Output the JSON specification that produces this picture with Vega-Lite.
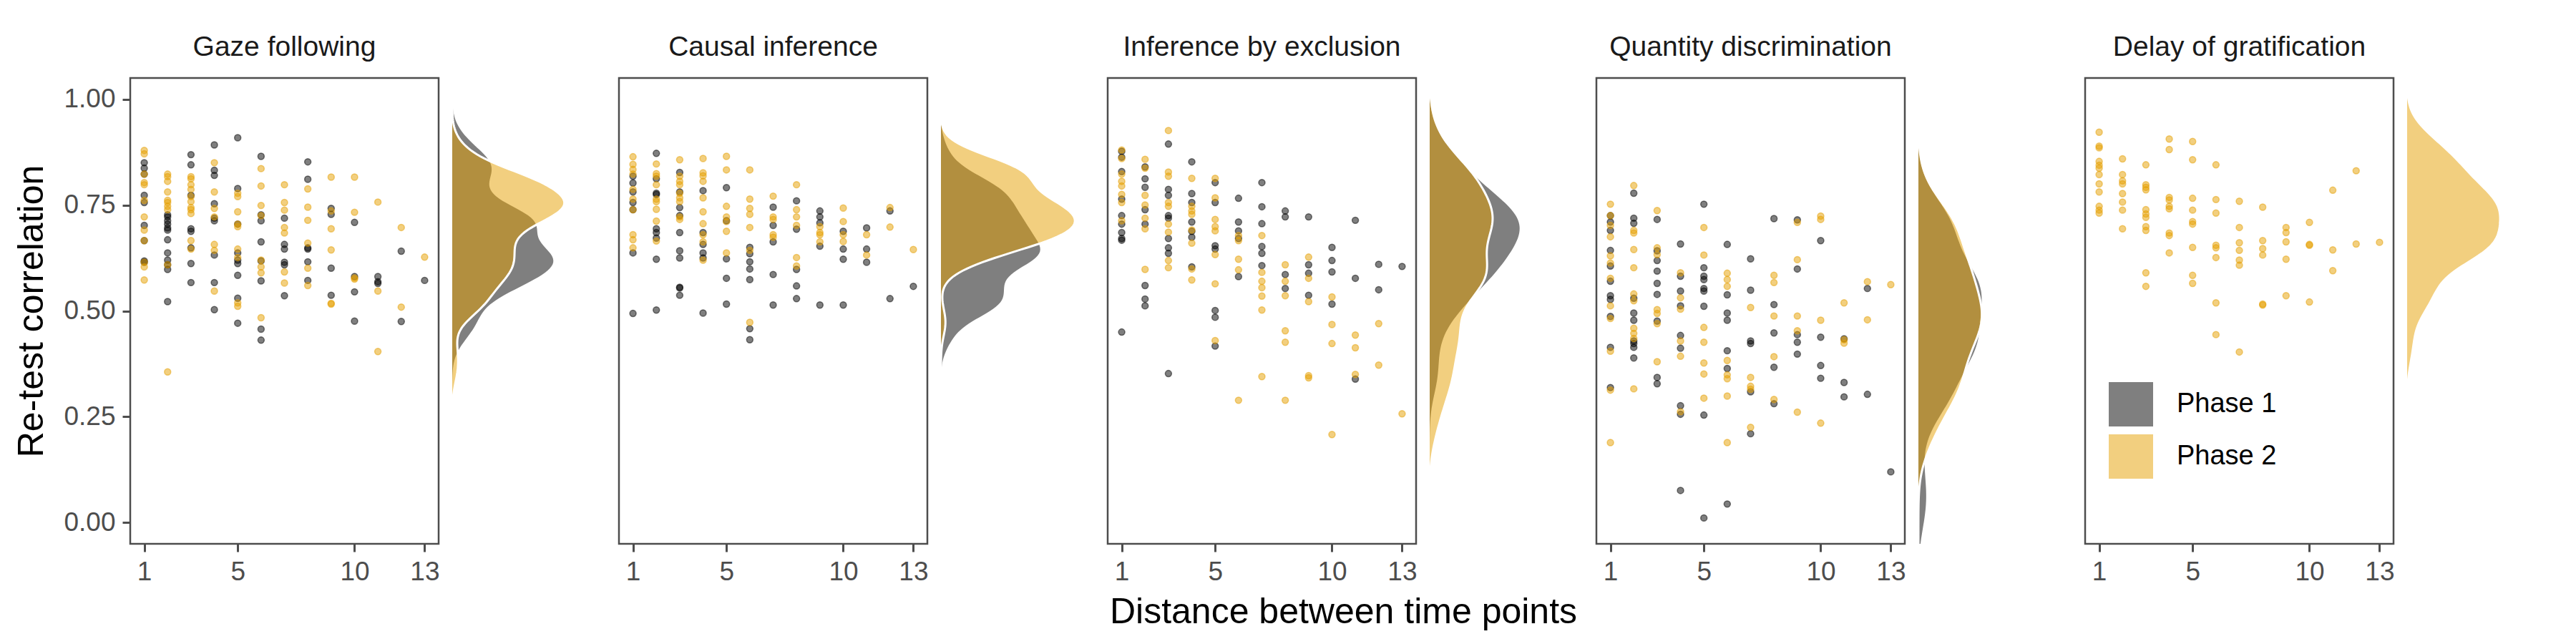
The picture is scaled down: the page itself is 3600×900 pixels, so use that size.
{
  "$schema": "https://vega.github.io/schema/vega-lite/v6.json",
  "padding": {"left": 17, "top": 45, "right": 5, "bottom": 5},
  "bounds": "flush",
  "spacing": 19,
  "data": {"values": [
    {"t":1,"p":"Phase 1","d":1,"r":0.850},{"t":1,"p":"Phase 1","d":1,"r":0.837},{"t":1,"p":"Phase 1","d":1,"r":0.823},{"t":1,"p":"Phase 1","d":1,"r":0.773},{"t":1,"p":"Phase 1","d":1,"r":0.756},{"t":1,"p":"Phase 1","d":1,"r":0.702},{"t":1,"p":"Phase 1","d":1,"r":0.666},{"t":1,"p":"Phase 1","d":1,"r":0.618},{"t":1,"p":"Phase 1","d":1,"r":0.615},
    {"t":1,"p":"Phase 1","d":2,"r":0.727},{"t":1,"p":"Phase 1","d":2,"r":0.722},{"t":1,"p":"Phase 1","d":2,"r":0.713},{"t":1,"p":"Phase 1","d":2,"r":0.705},{"t":1,"p":"Phase 1","d":2,"r":0.696},{"t":1,"p":"Phase 1","d":2,"r":0.691},{"t":1,"p":"Phase 1","d":2,"r":0.668},{"t":1,"p":"Phase 1","d":2,"r":0.637},{"t":1,"p":"Phase 1","d":2,"r":0.620},{"t":1,"p":"Phase 1","d":2,"r":0.609},{"t":1,"p":"Phase 1","d":2,"r":0.598},{"t":1,"p":"Phase 1","d":2,"r":0.522},
    {"t":1,"p":"Phase 1","d":3,"r":0.869},{"t":1,"p":"Phase 1","d":3,"r":0.845},{"t":1,"p":"Phase 1","d":3,"r":0.773},{"t":1,"p":"Phase 1","d":3,"r":0.694},{"t":1,"p":"Phase 1","d":3,"r":0.688},{"t":1,"p":"Phase 1","d":3,"r":0.649},{"t":1,"p":"Phase 1","d":3,"r":0.612},{"t":1,"p":"Phase 1","d":3,"r":0.567},
    {"t":1,"p":"Phase 1","d":4,"r":0.892},{"t":1,"p":"Phase 1","d":4,"r":0.832},{"t":1,"p":"Phase 1","d":4,"r":0.820},{"t":1,"p":"Phase 1","d":4,"r":0.753},{"t":1,"p":"Phase 1","d":4,"r":0.719},{"t":1,"p":"Phase 1","d":4,"r":0.713},{"t":1,"p":"Phase 1","d":4,"r":0.632},{"t":1,"p":"Phase 1","d":4,"r":0.567},{"t":1,"p":"Phase 1","d":4,"r":0.503},
    {"t":1,"p":"Phase 1","d":5,"r":0.909},{"t":1,"p":"Phase 1","d":5,"r":0.789},{"t":1,"p":"Phase 1","d":5,"r":0.705},{"t":1,"p":"Phase 1","d":5,"r":0.637},{"t":1,"p":"Phase 1","d":5,"r":0.620},{"t":1,"p":"Phase 1","d":5,"r":0.612},{"t":1,"p":"Phase 1","d":5,"r":0.584},{"t":1,"p":"Phase 1","d":5,"r":0.530},{"t":1,"p":"Phase 1","d":5,"r":0.471},
    {"t":1,"p":"Phase 1","d":6,"r":0.865},{"t":1,"p":"Phase 1","d":6,"r":0.727},{"t":1,"p":"Phase 1","d":6,"r":0.713},{"t":1,"p":"Phase 1","d":6,"r":0.663},{"t":1,"p":"Phase 1","d":6,"r":0.618},{"t":1,"p":"Phase 1","d":6,"r":0.571},{"t":1,"p":"Phase 1","d":6,"r":0.457},{"t":1,"p":"Phase 1","d":6,"r":0.431},
    {"t":1,"p":"Phase 1","d":7,"r":0.719},{"t":1,"p":"Phase 1","d":7,"r":0.657},{"t":1,"p":"Phase 1","d":7,"r":0.646},{"t":1,"p":"Phase 1","d":7,"r":0.615},{"t":1,"p":"Phase 1","d":7,"r":0.609},{"t":1,"p":"Phase 1","d":7,"r":0.536},
    {"t":1,"p":"Phase 1","d":8,"r":0.852},{"t":1,"p":"Phase 1","d":8,"r":0.811},{"t":1,"p":"Phase 1","d":8,"r":0.649},{"t":1,"p":"Phase 1","d":8,"r":0.646},{"t":1,"p":"Phase 1","d":8,"r":0.616},{"t":1,"p":"Phase 1","d":8,"r":0.572},
    {"t":1,"p":"Phase 1","d":9,"r":0.742},{"t":1,"p":"Phase 1","d":9,"r":0.728},{"t":1,"p":"Phase 1","d":9,"r":0.601},{"t":1,"p":"Phase 1","d":9,"r":0.537},
    {"t":1,"p":"Phase 1","d":10,"r":0.709},{"t":1,"p":"Phase 1","d":10,"r":0.581},{"t":1,"p":"Phase 1","d":10,"r":0.545},{"t":1,"p":"Phase 1","d":10,"r":0.476},
    {"t":1,"p":"Phase 1","d":11,"r":0.581},{"t":1,"p":"Phase 1","d":11,"r":0.569},{"t":1,"p":"Phase 1","d":11,"r":0.565},
    {"t":1,"p":"Phase 1","d":12,"r":0.641},{"t":1,"p":"Phase 1","d":12,"r":0.475},
    {"t":1,"p":"Phase 1","d":13,"r":0.572},
    {"t":1,"p":"Phase 2","d":1,"r":0.879},{"t":1,"p":"Phase 2","d":1,"r":0.871},{"t":1,"p":"Phase 2","d":1,"r":0.823},{"t":1,"p":"Phase 2","d":1,"r":0.803},{"t":1,"p":"Phase 2","d":1,"r":0.798},{"t":1,"p":"Phase 2","d":1,"r":0.761},{"t":1,"p":"Phase 2","d":1,"r":0.722},{"t":1,"p":"Phase 2","d":1,"r":0.691},{"t":1,"p":"Phase 2","d":1,"r":0.666},{"t":1,"p":"Phase 2","d":1,"r":0.615},{"t":1,"p":"Phase 2","d":1,"r":0.604},{"t":1,"p":"Phase 2","d":1,"r":0.573},
    {"t":1,"p":"Phase 2","d":2,"r":0.823},{"t":1,"p":"Phase 2","d":2,"r":0.817},{"t":1,"p":"Phase 2","d":2,"r":0.806},{"t":1,"p":"Phase 2","d":2,"r":0.781},{"t":1,"p":"Phase 2","d":2,"r":0.761},{"t":1,"p":"Phase 2","d":2,"r":0.756},{"t":1,"p":"Phase 2","d":2,"r":0.747},{"t":1,"p":"Phase 2","d":2,"r":0.739},{"t":1,"p":"Phase 2","d":2,"r":0.609},{"t":1,"p":"Phase 2","d":2,"r":0.356},
    {"t":1,"p":"Phase 2","d":3,"r":0.817},{"t":1,"p":"Phase 2","d":3,"r":0.812},{"t":1,"p":"Phase 2","d":3,"r":0.798},{"t":1,"p":"Phase 2","d":3,"r":0.787},{"t":1,"p":"Phase 2","d":3,"r":0.770},{"t":1,"p":"Phase 2","d":3,"r":0.758},{"t":1,"p":"Phase 2","d":3,"r":0.744},{"t":1,"p":"Phase 2","d":3,"r":0.739},{"t":1,"p":"Phase 2","d":3,"r":0.730},{"t":1,"p":"Phase 2","d":3,"r":0.666},{"t":1,"p":"Phase 2","d":3,"r":0.646},
    {"t":1,"p":"Phase 2","d":4,"r":0.850},{"t":1,"p":"Phase 2","d":4,"r":0.781},{"t":1,"p":"Phase 2","d":4,"r":0.742},{"t":1,"p":"Phase 2","d":4,"r":0.722},{"t":1,"p":"Phase 2","d":4,"r":0.657},{"t":1,"p":"Phase 2","d":4,"r":0.643},{"t":1,"p":"Phase 2","d":4,"r":0.547},
    {"t":1,"p":"Phase 2","d":5,"r":0.778},{"t":1,"p":"Phase 2","d":5,"r":0.770},{"t":1,"p":"Phase 2","d":5,"r":0.734},{"t":1,"p":"Phase 2","d":5,"r":0.705},{"t":1,"p":"Phase 2","d":5,"r":0.699},{"t":1,"p":"Phase 2","d":5,"r":0.646},{"t":1,"p":"Phase 2","d":5,"r":0.626},{"t":1,"p":"Phase 2","d":5,"r":0.519},{"t":1,"p":"Phase 2","d":5,"r":0.511},
    {"t":1,"p":"Phase 2","d":6,"r":0.836},{"t":1,"p":"Phase 2","d":6,"r":0.795},{"t":1,"p":"Phase 2","d":6,"r":0.749},{"t":1,"p":"Phase 2","d":6,"r":0.725},{"t":1,"p":"Phase 2","d":6,"r":0.620},{"t":1,"p":"Phase 2","d":6,"r":0.604},{"t":1,"p":"Phase 2","d":6,"r":0.590},{"t":1,"p":"Phase 2","d":6,"r":0.484},
    {"t":1,"p":"Phase 2","d":7,"r":0.798},{"t":1,"p":"Phase 2","d":7,"r":0.756},{"t":1,"p":"Phase 2","d":7,"r":0.738},{"t":1,"p":"Phase 2","d":7,"r":0.697},{"t":1,"p":"Phase 2","d":7,"r":0.684},{"t":1,"p":"Phase 2","d":7,"r":0.592},{"t":1,"p":"Phase 2","d":7,"r":0.566},
    {"t":1,"p":"Phase 2","d":8,"r":0.788},{"t":1,"p":"Phase 2","d":8,"r":0.745},{"t":1,"p":"Phase 2","d":8,"r":0.714},{"t":1,"p":"Phase 2","d":8,"r":0.660},{"t":1,"p":"Phase 2","d":8,"r":0.601},{"t":1,"p":"Phase 2","d":8,"r":0.560},
    {"t":1,"p":"Phase 2","d":9,"r":0.816},{"t":1,"p":"Phase 2","d":9,"r":0.736},{"t":1,"p":"Phase 2","d":9,"r":0.694},{"t":1,"p":"Phase 2","d":9,"r":0.644},{"t":1,"p":"Phase 2","d":9,"r":0.516},{"t":1,"p":"Phase 2","d":9,"r":0.518},
    {"t":1,"p":"Phase 2","d":10,"r":0.816},{"t":1,"p":"Phase 2","d":10,"r":0.733},{"t":1,"p":"Phase 2","d":10,"r":0.578},{"t":1,"p":"Phase 2","d":10,"r":0.575},
    {"t":1,"p":"Phase 2","d":11,"r":0.757},{"t":1,"p":"Phase 2","d":11,"r":0.547},{"t":1,"p":"Phase 2","d":11,"r":0.404},
    {"t":1,"p":"Phase 2","d":12,"r":0.697},{"t":1,"p":"Phase 2","d":12,"r":0.509},
    {"t":1,"p":"Phase 2","d":13,"r":0.627},

    {"t":2,"p":"Phase 1","d":1,"r":0.818},{"t":2,"p":"Phase 1","d":1,"r":0.802},{"t":2,"p":"Phase 1","d":1,"r":0.781},{"t":2,"p":"Phase 1","d":1,"r":0.756},{"t":2,"p":"Phase 1","d":1,"r":0.739},{"t":2,"p":"Phase 1","d":1,"r":0.637},{"t":2,"p":"Phase 1","d":1,"r":0.494},
    {"t":2,"p":"Phase 1","d":2,"r":0.872},{"t":2,"p":"Phase 1","d":2,"r":0.812},{"t":2,"p":"Phase 1","d":2,"r":0.778},{"t":2,"p":"Phase 1","d":2,"r":0.775},{"t":2,"p":"Phase 1","d":2,"r":0.694},{"t":2,"p":"Phase 1","d":2,"r":0.685},{"t":2,"p":"Phase 1","d":2,"r":0.672},{"t":2,"p":"Phase 1","d":2,"r":0.622},{"t":2,"p":"Phase 1","d":2,"r":0.502},
    {"t":2,"p":"Phase 1","d":3,"r":0.827},{"t":2,"p":"Phase 1","d":3,"r":0.781},{"t":2,"p":"Phase 1","d":3,"r":0.744},{"t":2,"p":"Phase 1","d":3,"r":0.725},{"t":2,"p":"Phase 1","d":3,"r":0.685},{"t":2,"p":"Phase 1","d":3,"r":0.642},{"t":2,"p":"Phase 1","d":3,"r":0.625},{"t":2,"p":"Phase 1","d":3,"r":0.556},{"t":2,"p":"Phase 1","d":3,"r":0.554},{"t":2,"p":"Phase 1","d":3,"r":0.537},
    {"t":2,"p":"Phase 1","d":4,"r":0.784},{"t":2,"p":"Phase 1","d":4,"r":0.685},{"t":2,"p":"Phase 1","d":4,"r":0.657},{"t":2,"p":"Phase 1","d":4,"r":0.637},{"t":2,"p":"Phase 1","d":4,"r":0.625},{"t":2,"p":"Phase 1","d":4,"r":0.495},
    {"t":2,"p":"Phase 1","d":5,"r":0.791},{"t":2,"p":"Phase 1","d":5,"r":0.713},{"t":2,"p":"Phase 1","d":5,"r":0.623},{"t":2,"p":"Phase 1","d":5,"r":0.577},{"t":2,"p":"Phase 1","d":5,"r":0.516},
    {"t":2,"p":"Phase 1","d":6,"r":0.650},{"t":2,"p":"Phase 1","d":6,"r":0.635},{"t":2,"p":"Phase 1","d":6,"r":0.616},{"t":2,"p":"Phase 1","d":6,"r":0.599},{"t":2,"p":"Phase 1","d":6,"r":0.574},{"t":2,"p":"Phase 1","d":6,"r":0.458},{"t":2,"p":"Phase 1","d":6,"r":0.432},
    {"t":2,"p":"Phase 1","d":7,"r":0.745},{"t":2,"p":"Phase 1","d":7,"r":0.702},{"t":2,"p":"Phase 1","d":7,"r":0.663},{"t":2,"p":"Phase 1","d":7,"r":0.586},{"t":2,"p":"Phase 1","d":7,"r":0.514},
    {"t":2,"p":"Phase 1","d":8,"r":0.760},{"t":2,"p":"Phase 1","d":8,"r":0.693},{"t":2,"p":"Phase 1","d":8,"r":0.598},{"t":2,"p":"Phase 1","d":8,"r":0.559},{"t":2,"p":"Phase 1","d":8,"r":0.529},
    {"t":2,"p":"Phase 1","d":9,"r":0.736},{"t":2,"p":"Phase 1","d":9,"r":0.722},{"t":2,"p":"Phase 1","d":9,"r":0.708},{"t":2,"p":"Phase 1","d":9,"r":0.653},{"t":2,"p":"Phase 1","d":9,"r":0.514},
    {"t":2,"p":"Phase 1","d":10,"r":0.688},{"t":2,"p":"Phase 1","d":10,"r":0.646},{"t":2,"p":"Phase 1","d":10,"r":0.622},{"t":2,"p":"Phase 1","d":10,"r":0.514},
    {"t":2,"p":"Phase 1","d":11,"r":0.696},{"t":2,"p":"Phase 1","d":11,"r":0.646},{"t":2,"p":"Phase 1","d":11,"r":0.615},
    {"t":2,"p":"Phase 1","d":12,"r":0.736},{"t":2,"p":"Phase 1","d":12,"r":0.529},
    {"t":2,"p":"Phase 1","d":13,"r":0.558},
    {"t":2,"p":"Phase 2","d":1,"r":0.864},{"t":2,"p":"Phase 2","d":1,"r":0.846},{"t":2,"p":"Phase 2","d":1,"r":0.834},{"t":2,"p":"Phase 2","d":1,"r":0.823},{"t":2,"p":"Phase 2","d":1,"r":0.787},{"t":2,"p":"Phase 2","d":1,"r":0.764},{"t":2,"p":"Phase 2","d":1,"r":0.739},{"t":2,"p":"Phase 2","d":1,"r":0.680},{"t":2,"p":"Phase 2","d":1,"r":0.668},{"t":2,"p":"Phase 2","d":1,"r":0.649},
    {"t":2,"p":"Phase 2","d":2,"r":0.847},{"t":2,"p":"Phase 2","d":2,"r":0.824},{"t":2,"p":"Phase 2","d":2,"r":0.818},{"t":2,"p":"Phase 2","d":2,"r":0.798},{"t":2,"p":"Phase 2","d":2,"r":0.764},{"t":2,"p":"Phase 2","d":2,"r":0.758},{"t":2,"p":"Phase 2","d":2,"r":0.740},{"t":2,"p":"Phase 2","d":2,"r":0.712},{"t":2,"p":"Phase 2","d":2,"r":0.665},
    {"t":2,"p":"Phase 2","d":3,"r":0.857},{"t":2,"p":"Phase 2","d":3,"r":0.818},{"t":2,"p":"Phase 2","d":3,"r":0.806},{"t":2,"p":"Phase 2","d":3,"r":0.798},{"t":2,"p":"Phase 2","d":3,"r":0.778},{"t":2,"p":"Phase 2","d":3,"r":0.767},{"t":2,"p":"Phase 2","d":3,"r":0.758},{"t":2,"p":"Phase 2","d":3,"r":0.722},{"t":2,"p":"Phase 2","d":3,"r":0.716},
    {"t":2,"p":"Phase 2","d":4,"r":0.860},{"t":2,"p":"Phase 2","d":4,"r":0.826},{"t":2,"p":"Phase 2","d":4,"r":0.819},{"t":2,"p":"Phase 2","d":4,"r":0.806},{"t":2,"p":"Phase 2","d":4,"r":0.767},{"t":2,"p":"Phase 2","d":4,"r":0.734},{"t":2,"p":"Phase 2","d":4,"r":0.706},{"t":2,"p":"Phase 2","d":4,"r":0.680},{"t":2,"p":"Phase 2","d":4,"r":0.663},{"t":2,"p":"Phase 2","d":4,"r":0.620},
    {"t":2,"p":"Phase 2","d":5,"r":0.865},{"t":2,"p":"Phase 2","d":5,"r":0.833},{"t":2,"p":"Phase 2","d":5,"r":0.747},{"t":2,"p":"Phase 2","d":5,"r":0.722},{"t":2,"p":"Phase 2","d":5,"r":0.711},{"t":2,"p":"Phase 2","d":5,"r":0.688},{"t":2,"p":"Phase 2","d":5,"r":0.637},
    {"t":2,"p":"Phase 2","d":6,"r":0.833},{"t":2,"p":"Phase 2","d":6,"r":0.764},{"t":2,"p":"Phase 2","d":6,"r":0.742},{"t":2,"p":"Phase 2","d":6,"r":0.728},{"t":2,"p":"Phase 2","d":6,"r":0.697},{"t":2,"p":"Phase 2","d":6,"r":0.643},{"t":2,"p":"Phase 2","d":6,"r":0.473},
    {"t":2,"p":"Phase 2","d":7,"r":0.771},{"t":2,"p":"Phase 2","d":7,"r":0.722},{"t":2,"p":"Phase 2","d":7,"r":0.716},{"t":2,"p":"Phase 2","d":7,"r":0.680},{"t":2,"p":"Phase 2","d":7,"r":0.674},
    {"t":2,"p":"Phase 2","d":8,"r":0.798},{"t":2,"p":"Phase 2","d":8,"r":0.739},{"t":2,"p":"Phase 2","d":8,"r":0.722},{"t":2,"p":"Phase 2","d":8,"r":0.702},{"t":2,"p":"Phase 2","d":8,"r":0.626},{"t":2,"p":"Phase 2","d":8,"r":0.606},
    {"t":2,"p":"Phase 2","d":9,"r":0.699},{"t":2,"p":"Phase 2","d":9,"r":0.685},{"t":2,"p":"Phase 2","d":9,"r":0.680},{"t":2,"p":"Phase 2","d":9,"r":0.663},
    {"t":2,"p":"Phase 2","d":10,"r":0.743},{"t":2,"p":"Phase 2","d":10,"r":0.711},{"t":2,"p":"Phase 2","d":10,"r":0.680},{"t":2,"p":"Phase 2","d":10,"r":0.664},
    {"t":2,"p":"Phase 2","d":11,"r":0.680},{"t":2,"p":"Phase 2","d":11,"r":0.632},
    {"t":2,"p":"Phase 2","d":12,"r":0.744},{"t":2,"p":"Phase 2","d":12,"r":0.698},
    {"t":2,"p":"Phase 2","d":13,"r":0.645},

    {"t":3,"p":"Phase 1","d":1,"r":0.877},{"t":3,"p":"Phase 1","d":1,"r":0.863},{"t":3,"p":"Phase 1","d":1,"r":0.829},{"t":3,"p":"Phase 1","d":1,"r":0.764},{"t":3,"p":"Phase 1","d":1,"r":0.725},{"t":3,"p":"Phase 1","d":1,"r":0.705},{"t":3,"p":"Phase 1","d":1,"r":0.685},{"t":3,"p":"Phase 1","d":1,"r":0.671},{"t":3,"p":"Phase 1","d":1,"r":0.667},{"t":3,"p":"Phase 1","d":1,"r":0.450},
    {"t":3,"p":"Phase 1","d":2,"r":0.840},{"t":3,"p":"Phase 1","d":2,"r":0.812},{"t":3,"p":"Phase 1","d":2,"r":0.792},{"t":3,"p":"Phase 1","d":2,"r":0.739},{"t":3,"p":"Phase 1","d":2,"r":0.705},{"t":3,"p":"Phase 1","d":2,"r":0.560},{"t":3,"p":"Phase 1","d":2,"r":0.528},{"t":3,"p":"Phase 1","d":2,"r":0.512},
    {"t":3,"p":"Phase 1","d":3,"r":0.894},{"t":3,"p":"Phase 1","d":3,"r":0.787},{"t":3,"p":"Phase 1","d":3,"r":0.773},{"t":3,"p":"Phase 1","d":3,"r":0.725},{"t":3,"p":"Phase 1","d":3,"r":0.719},{"t":3,"p":"Phase 1","d":3,"r":0.671},{"t":3,"p":"Phase 1","d":3,"r":0.649},{"t":3,"p":"Phase 1","d":3,"r":0.636},{"t":3,"p":"Phase 1","d":3,"r":0.352},
    {"t":3,"p":"Phase 1","d":4,"r":0.852},{"t":3,"p":"Phase 1","d":4,"r":0.777},{"t":3,"p":"Phase 1","d":4,"r":0.756},{"t":3,"p":"Phase 1","d":4,"r":0.710},{"t":3,"p":"Phase 1","d":4,"r":0.688},{"t":3,"p":"Phase 1","d":4,"r":0.674},{"t":3,"p":"Phase 1","d":4,"r":0.604},
    {"t":3,"p":"Phase 1","d":5,"r":0.803},{"t":3,"p":"Phase 1","d":5,"r":0.756},{"t":3,"p":"Phase 1","d":5,"r":0.654},{"t":3,"p":"Phase 1","d":5,"r":0.646},{"t":3,"p":"Phase 1","d":5,"r":0.501},{"t":3,"p":"Phase 1","d":5,"r":0.485},{"t":3,"p":"Phase 1","d":5,"r":0.417},
    {"t":3,"p":"Phase 1","d":6,"r":0.766},{"t":3,"p":"Phase 1","d":6,"r":0.710},{"t":3,"p":"Phase 1","d":6,"r":0.689},{"t":3,"p":"Phase 1","d":6,"r":0.671},{"t":3,"p":"Phase 1","d":6,"r":0.581},
    {"t":3,"p":"Phase 1","d":7,"r":0.803},{"t":3,"p":"Phase 1","d":7,"r":0.746},{"t":3,"p":"Phase 1","d":7,"r":0.706},{"t":3,"p":"Phase 1","d":7,"r":0.652},{"t":3,"p":"Phase 1","d":7,"r":0.636},{"t":3,"p":"Phase 1","d":7,"r":0.607},
    {"t":3,"p":"Phase 1","d":8,"r":0.736},{"t":3,"p":"Phase 1","d":8,"r":0.722},{"t":3,"p":"Phase 1","d":8,"r":0.586},{"t":3,"p":"Phase 1","d":8,"r":0.553},
    {"t":3,"p":"Phase 1","d":9,"r":0.722},{"t":3,"p":"Phase 1","d":9,"r":0.609},{"t":3,"p":"Phase 1","d":9,"r":0.589},{"t":3,"p":"Phase 1","d":9,"r":0.537},
    {"t":3,"p":"Phase 1","d":10,"r":0.650},{"t":3,"p":"Phase 1","d":10,"r":0.619},{"t":3,"p":"Phase 1","d":10,"r":0.592},{"t":3,"p":"Phase 1","d":10,"r":0.516},
    {"t":3,"p":"Phase 1","d":11,"r":0.714},{"t":3,"p":"Phase 1","d":11,"r":0.577},{"t":3,"p":"Phase 1","d":11,"r":0.339},
    {"t":3,"p":"Phase 1","d":12,"r":0.610},{"t":3,"p":"Phase 1","d":12,"r":0.550},
    {"t":3,"p":"Phase 1","d":13,"r":0.605},
    {"t":3,"p":"Phase 2","d":1,"r":0.880},{"t":3,"p":"Phase 2","d":1,"r":0.860},{"t":3,"p":"Phase 2","d":1,"r":0.823},{"t":3,"p":"Phase 2","d":1,"r":0.806},{"t":3,"p":"Phase 2","d":1,"r":0.795},{"t":3,"p":"Phase 2","d":1,"r":0.775},{"t":3,"p":"Phase 2","d":1,"r":0.756},{"t":3,"p":"Phase 2","d":1,"r":0.713},
    {"t":3,"p":"Phase 2","d":2,"r":0.858},{"t":3,"p":"Phase 2","d":2,"r":0.837},{"t":3,"p":"Phase 2","d":2,"r":0.773},{"t":3,"p":"Phase 2","d":2,"r":0.750},{"t":3,"p":"Phase 2","d":2,"r":0.719},{"t":3,"p":"Phase 2","d":2,"r":0.694},{"t":3,"p":"Phase 2","d":2,"r":0.598},
    {"t":3,"p":"Phase 2","d":3,"r":0.926},{"t":3,"p":"Phase 2","d":3,"r":0.828},{"t":3,"p":"Phase 2","d":3,"r":0.818},{"t":3,"p":"Phase 2","d":3,"r":0.756},{"t":3,"p":"Phase 2","d":3,"r":0.747},{"t":3,"p":"Phase 2","d":3,"r":0.705},{"t":3,"p":"Phase 2","d":3,"r":0.686},{"t":3,"p":"Phase 2","d":3,"r":0.619},{"t":3,"p":"Phase 2","d":3,"r":0.602},
    {"t":3,"p":"Phase 2","d":4,"r":0.813},{"t":3,"p":"Phase 2","d":4,"r":0.747},{"t":3,"p":"Phase 2","d":4,"r":0.736},{"t":3,"p":"Phase 2","d":4,"r":0.728},{"t":3,"p":"Phase 2","d":4,"r":0.691},{"t":3,"p":"Phase 2","d":4,"r":0.660},{"t":3,"p":"Phase 2","d":4,"r":0.599},{"t":3,"p":"Phase 2","d":4,"r":0.573},
    {"t":3,"p":"Phase 2","d":5,"r":0.813},{"t":3,"p":"Phase 2","d":5,"r":0.767},{"t":3,"p":"Phase 2","d":5,"r":0.716},{"t":3,"p":"Phase 2","d":5,"r":0.699},{"t":3,"p":"Phase 2","d":5,"r":0.689},{"t":3,"p":"Phase 2","d":5,"r":0.633},{"t":3,"p":"Phase 2","d":5,"r":0.564},{"t":3,"p":"Phase 2","d":5,"r":0.430},
    {"t":3,"p":"Phase 2","d":6,"r":0.678},{"t":3,"p":"Phase 2","d":6,"r":0.666},{"t":3,"p":"Phase 2","d":6,"r":0.622},{"t":3,"p":"Phase 2","d":6,"r":0.597},{"t":3,"p":"Phase 2","d":6,"r":0.289},
    {"t":3,"p":"Phase 2","d":7,"r":0.678},{"t":3,"p":"Phase 2","d":7,"r":0.591},{"t":3,"p":"Phase 2","d":7,"r":0.570},{"t":3,"p":"Phase 2","d":7,"r":0.555},{"t":3,"p":"Phase 2","d":7,"r":0.535},{"t":3,"p":"Phase 2","d":7,"r":0.502},{"t":3,"p":"Phase 2","d":7,"r":0.345},
    {"t":3,"p":"Phase 2","d":8,"r":0.609},{"t":3,"p":"Phase 2","d":8,"r":0.570},{"t":3,"p":"Phase 2","d":8,"r":0.536},{"t":3,"p":"Phase 2","d":8,"r":0.453},{"t":3,"p":"Phase 2","d":8,"r":0.426},{"t":3,"p":"Phase 2","d":8,"r":0.289},
    {"t":3,"p":"Phase 2","d":9,"r":0.627},{"t":3,"p":"Phase 2","d":9,"r":0.577},{"t":3,"p":"Phase 2","d":9,"r":0.522},{"t":3,"p":"Phase 2","d":9,"r":0.347},{"t":3,"p":"Phase 2","d":9,"r":0.342},
    {"t":3,"p":"Phase 2","d":10,"r":0.533},{"t":3,"p":"Phase 2","d":10,"r":0.468},{"t":3,"p":"Phase 2","d":10,"r":0.423},{"t":3,"p":"Phase 2","d":10,"r":0.208},
    {"t":3,"p":"Phase 2","d":11,"r":0.443},{"t":3,"p":"Phase 2","d":11,"r":0.413},{"t":3,"p":"Phase 2","d":11,"r":0.350},
    {"t":3,"p":"Phase 2","d":12,"r":0.470},{"t":3,"p":"Phase 2","d":12,"r":0.372},
    {"t":3,"p":"Phase 2","d":13,"r":0.257},

    {"t":4,"p":"Phase 1","d":1,"r":0.725},{"t":4,"p":"Phase 1","d":1,"r":0.710},{"t":4,"p":"Phase 1","d":1,"r":0.690},{"t":4,"p":"Phase 1","d":1,"r":0.643},{"t":4,"p":"Phase 1","d":1,"r":0.606},{"t":4,"p":"Phase 1","d":1,"r":0.570},{"t":4,"p":"Phase 1","d":1,"r":0.536},{"t":4,"p":"Phase 1","d":1,"r":0.527},{"t":4,"p":"Phase 1","d":1,"r":0.487},{"t":4,"p":"Phase 1","d":1,"r":0.414},{"t":4,"p":"Phase 1","d":1,"r":0.319},
    {"t":4,"p":"Phase 1","d":2,"r":0.778},{"t":4,"p":"Phase 1","d":2,"r":0.719},{"t":4,"p":"Phase 1","d":2,"r":0.707},{"t":4,"p":"Phase 1","d":2,"r":0.530},{"t":4,"p":"Phase 1","d":2,"r":0.495},{"t":4,"p":"Phase 1","d":2,"r":0.478},{"t":4,"p":"Phase 1","d":2,"r":0.429},{"t":4,"p":"Phase 1","d":2,"r":0.423},{"t":4,"p":"Phase 1","d":2,"r":0.414},{"t":4,"p":"Phase 1","d":2,"r":0.389},
    {"t":4,"p":"Phase 1","d":3,"r":0.716},{"t":4,"p":"Phase 1","d":3,"r":0.642},{"t":4,"p":"Phase 1","d":3,"r":0.619},{"t":4,"p":"Phase 1","d":3,"r":0.594},{"t":4,"p":"Phase 1","d":3,"r":0.565},{"t":4,"p":"Phase 1","d":3,"r":0.539},{"t":4,"p":"Phase 1","d":3,"r":0.476},{"t":4,"p":"Phase 1","d":3,"r":0.343},{"t":4,"p":"Phase 1","d":3,"r":0.328},
    {"t":4,"p":"Phase 1","d":4,"r":0.658},{"t":4,"p":"Phase 1","d":4,"r":0.582},{"t":4,"p":"Phase 1","d":4,"r":0.547},{"t":4,"p":"Phase 1","d":4,"r":0.512},{"t":4,"p":"Phase 1","d":4,"r":0.442},{"t":4,"p":"Phase 1","d":4,"r":0.412},{"t":4,"p":"Phase 1","d":4,"r":0.276},{"t":4,"p":"Phase 1","d":4,"r":0.256},{"t":4,"p":"Phase 1","d":4,"r":0.076},
    {"t":4,"p":"Phase 1","d":5,"r":0.752},{"t":4,"p":"Phase 1","d":5,"r":0.602},{"t":4,"p":"Phase 1","d":5,"r":0.582},{"t":4,"p":"Phase 1","d":5,"r":0.574},{"t":4,"p":"Phase 1","d":5,"r":0.553},{"t":4,"p":"Phase 1","d":5,"r":0.547},{"t":4,"p":"Phase 1","d":5,"r":0.511},{"t":4,"p":"Phase 1","d":5,"r":0.254},{"t":4,"p":"Phase 1","d":5,"r":0.011},
    {"t":4,"p":"Phase 1","d":6,"r":0.657},{"t":4,"p":"Phase 1","d":6,"r":0.538},{"t":4,"p":"Phase 1","d":6,"r":0.495},{"t":4,"p":"Phase 1","d":6,"r":0.478},{"t":4,"p":"Phase 1","d":6,"r":0.406},{"t":4,"p":"Phase 1","d":6,"r":0.364},{"t":4,"p":"Phase 1","d":6,"r":0.044},
    {"t":4,"p":"Phase 1","d":7,"r":0.623},{"t":4,"p":"Phase 1","d":7,"r":0.549},{"t":4,"p":"Phase 1","d":7,"r":0.429},{"t":4,"p":"Phase 1","d":7,"r":0.423},{"t":4,"p":"Phase 1","d":7,"r":0.309},{"t":4,"p":"Phase 1","d":7,"r":0.210},
    {"t":4,"p":"Phase 1","d":8,"r":0.718},{"t":4,"p":"Phase 1","d":8,"r":0.515},{"t":4,"p":"Phase 1","d":8,"r":0.448},{"t":4,"p":"Phase 1","d":8,"r":0.367},{"t":4,"p":"Phase 1","d":8,"r":0.281},
    {"t":4,"p":"Phase 1","d":9,"r":0.715},{"t":4,"p":"Phase 1","d":9,"r":0.599},{"t":4,"p":"Phase 1","d":9,"r":0.444},{"t":4,"p":"Phase 1","d":9,"r":0.426},{"t":4,"p":"Phase 1","d":9,"r":0.398},
    {"t":4,"p":"Phase 1","d":10,"r":0.666},{"t":4,"p":"Phase 1","d":10,"r":0.438},{"t":4,"p":"Phase 1","d":10,"r":0.371},{"t":4,"p":"Phase 1","d":10,"r":0.341},
    {"t":4,"p":"Phase 1","d":11,"r":0.434},{"t":4,"p":"Phase 1","d":11,"r":0.331},{"t":4,"p":"Phase 1","d":11,"r":0.297},
    {"t":4,"p":"Phase 1","d":12,"r":0.553},{"t":4,"p":"Phase 1","d":12,"r":0.303},
    {"t":4,"p":"Phase 1","d":13,"r":0.120},
    {"t":4,"p":"Phase 2","d":1,"r":0.752},{"t":4,"p":"Phase 2","d":1,"r":0.725},{"t":4,"p":"Phase 2","d":1,"r":0.702},{"t":4,"p":"Phase 2","d":1,"r":0.675},{"t":4,"p":"Phase 2","d":1,"r":0.630},{"t":4,"p":"Phase 2","d":1,"r":0.613},{"t":4,"p":"Phase 2","d":1,"r":0.577},{"t":4,"p":"Phase 2","d":1,"r":0.512},{"t":4,"p":"Phase 2","d":1,"r":0.482},{"t":4,"p":"Phase 2","d":1,"r":0.405},{"t":4,"p":"Phase 2","d":1,"r":0.313},{"t":4,"p":"Phase 2","d":1,"r":0.189},
    {"t":4,"p":"Phase 2","d":2,"r":0.796},{"t":4,"p":"Phase 2","d":2,"r":0.690},{"t":4,"p":"Phase 2","d":2,"r":0.684},{"t":4,"p":"Phase 2","d":2,"r":0.645},{"t":4,"p":"Phase 2","d":2,"r":0.602},{"t":4,"p":"Phase 2","d":2,"r":0.540},{"t":4,"p":"Phase 2","d":2,"r":0.524},{"t":4,"p":"Phase 2","d":2,"r":0.459},{"t":4,"p":"Phase 2","d":2,"r":0.447},{"t":4,"p":"Phase 2","d":2,"r":0.435},{"t":4,"p":"Phase 2","d":2,"r":0.316},
    {"t":4,"p":"Phase 2","d":3,"r":0.737},{"t":4,"p":"Phase 2","d":3,"r":0.649},{"t":4,"p":"Phase 2","d":3,"r":0.633},{"t":4,"p":"Phase 2","d":3,"r":0.503},{"t":4,"p":"Phase 2","d":3,"r":0.494},{"t":4,"p":"Phase 2","d":3,"r":0.470},{"t":4,"p":"Phase 2","d":3,"r":0.380},
    {"t":4,"p":"Phase 2","d":4,"r":0.590},{"t":4,"p":"Phase 2","d":4,"r":0.531},{"t":4,"p":"Phase 2","d":4,"r":0.504},{"t":4,"p":"Phase 2","d":4,"r":0.429},{"t":4,"p":"Phase 2","d":4,"r":0.393},{"t":4,"p":"Phase 2","d":4,"r":0.262},
    {"t":4,"p":"Phase 2","d":5,"r":0.697},{"t":4,"p":"Phase 2","d":5,"r":0.632},{"t":4,"p":"Phase 2","d":5,"r":0.461},{"t":4,"p":"Phase 2","d":5,"r":0.426},{"t":4,"p":"Phase 2","d":5,"r":0.377},{"t":4,"p":"Phase 2","d":5,"r":0.351},{"t":4,"p":"Phase 2","d":5,"r":0.294},
    {"t":4,"p":"Phase 2","d":6,"r":0.589},{"t":4,"p":"Phase 2","d":6,"r":0.574},{"t":4,"p":"Phase 2","d":6,"r":0.558},{"t":4,"p":"Phase 2","d":6,"r":0.383},{"t":4,"p":"Phase 2","d":6,"r":0.349},{"t":4,"p":"Phase 2","d":6,"r":0.340},{"t":4,"p":"Phase 2","d":6,"r":0.299},{"t":4,"p":"Phase 2","d":6,"r":0.189},
    {"t":4,"p":"Phase 2","d":7,"r":0.508},{"t":4,"p":"Phase 2","d":7,"r":0.343},{"t":4,"p":"Phase 2","d":7,"r":0.322},{"t":4,"p":"Phase 2","d":7,"r":0.315},{"t":4,"p":"Phase 2","d":7,"r":0.225},
    {"t":4,"p":"Phase 2","d":8,"r":0.584},{"t":4,"p":"Phase 2","d":8,"r":0.567},{"t":4,"p":"Phase 2","d":8,"r":0.488},{"t":4,"p":"Phase 2","d":8,"r":0.392},{"t":4,"p":"Phase 2","d":8,"r":0.291},
    {"t":4,"p":"Phase 2","d":9,"r":0.709},{"t":4,"p":"Phase 2","d":9,"r":0.621},{"t":4,"p":"Phase 2","d":9,"r":0.488},{"t":4,"p":"Phase 2","d":9,"r":0.453},{"t":4,"p":"Phase 2","d":9,"r":0.261},
    {"t":4,"p":"Phase 2","d":10,"r":0.724},{"t":4,"p":"Phase 2","d":10,"r":0.716},{"t":4,"p":"Phase 2","d":10,"r":0.478},{"t":4,"p":"Phase 2","d":10,"r":0.235},
    {"t":4,"p":"Phase 2","d":11,"r":0.519},{"t":4,"p":"Phase 2","d":11,"r":0.432},{"t":4,"p":"Phase 2","d":11,"r":0.424},
    {"t":4,"p":"Phase 2","d":12,"r":0.569},{"t":4,"p":"Phase 2","d":12,"r":0.479},
    {"t":4,"p":"Phase 2","d":13,"r":0.562},

    {"t":5,"p":"Phase 2","d":1,"r":0.922},{"t":5,"p":"Phase 2","d":1,"r":0.889},{"t":5,"p":"Phase 2","d":1,"r":0.885},{"t":5,"p":"Phase 2","d":1,"r":0.853},{"t":5,"p":"Phase 2","d":1,"r":0.844},{"t":5,"p":"Phase 2","d":1,"r":0.837},{"t":5,"p":"Phase 2","d":1,"r":0.822},{"t":5,"p":"Phase 2","d":1,"r":0.800},{"t":5,"p":"Phase 2","d":1,"r":0.781},{"t":5,"p":"Phase 2","d":1,"r":0.747},{"t":5,"p":"Phase 2","d":1,"r":0.738},{"t":5,"p":"Phase 2","d":1,"r":0.731},
    {"t":5,"p":"Phase 2","d":2,"r":0.859},{"t":5,"p":"Phase 2","d":2,"r":0.822},{"t":5,"p":"Phase 2","d":2,"r":0.807},{"t":5,"p":"Phase 2","d":2,"r":0.800},{"t":5,"p":"Phase 2","d":2,"r":0.777},{"t":5,"p":"Phase 2","d":2,"r":0.757},{"t":5,"p":"Phase 2","d":2,"r":0.738},{"t":5,"p":"Phase 2","d":2,"r":0.694},
    {"t":5,"p":"Phase 2","d":3,"r":0.845},{"t":5,"p":"Phase 2","d":3,"r":0.798},{"t":5,"p":"Phase 2","d":3,"r":0.792},{"t":5,"p":"Phase 2","d":3,"r":0.786},{"t":5,"p":"Phase 2","d":3,"r":0.739},{"t":5,"p":"Phase 2","d":3,"r":0.729},{"t":5,"p":"Phase 2","d":3,"r":0.721},{"t":5,"p":"Phase 2","d":3,"r":0.699},{"t":5,"p":"Phase 2","d":3,"r":0.690},{"t":5,"p":"Phase 2","d":3,"r":0.590},{"t":5,"p":"Phase 2","d":3,"r":0.558},
    {"t":5,"p":"Phase 2","d":4,"r":0.906},{"t":5,"p":"Phase 2","d":4,"r":0.881},{"t":5,"p":"Phase 2","d":4,"r":0.768},{"t":5,"p":"Phase 2","d":4,"r":0.762},{"t":5,"p":"Phase 2","d":4,"r":0.747},{"t":5,"p":"Phase 2","d":4,"r":0.741},{"t":5,"p":"Phase 2","d":4,"r":0.684},{"t":5,"p":"Phase 2","d":4,"r":0.678},{"t":5,"p":"Phase 2","d":4,"r":0.637},
    {"t":5,"p":"Phase 2","d":5,"r":0.900},{"t":5,"p":"Phase 2","d":5,"r":0.857},{"t":5,"p":"Phase 2","d":5,"r":0.766},{"t":5,"p":"Phase 2","d":5,"r":0.738},{"t":5,"p":"Phase 2","d":5,"r":0.711},{"t":5,"p":"Phase 2","d":5,"r":0.705},{"t":5,"p":"Phase 2","d":5,"r":0.650},{"t":5,"p":"Phase 2","d":5,"r":0.584},{"t":5,"p":"Phase 2","d":5,"r":0.565},
    {"t":5,"p":"Phase 2","d":6,"r":0.845},{"t":5,"p":"Phase 2","d":6,"r":0.763},{"t":5,"p":"Phase 2","d":6,"r":0.731},{"t":5,"p":"Phase 2","d":6,"r":0.655},{"t":5,"p":"Phase 2","d":6,"r":0.649},{"t":5,"p":"Phase 2","d":6,"r":0.626},{"t":5,"p":"Phase 2","d":6,"r":0.519},{"t":5,"p":"Phase 2","d":6,"r":0.444},
    {"t":5,"p":"Phase 2","d":7,"r":0.759},{"t":5,"p":"Phase 2","d":7,"r":0.697},{"t":5,"p":"Phase 2","d":7,"r":0.661},{"t":5,"p":"Phase 2","d":7,"r":0.643},{"t":5,"p":"Phase 2","d":7,"r":0.620},{"t":5,"p":"Phase 2","d":7,"r":0.608},{"t":5,"p":"Phase 2","d":7,"r":0.403},
    {"t":5,"p":"Phase 2","d":8,"r":0.745},{"t":5,"p":"Phase 2","d":8,"r":0.666},{"t":5,"p":"Phase 2","d":8,"r":0.647},{"t":5,"p":"Phase 2","d":8,"r":0.632},{"t":5,"p":"Phase 2","d":8,"r":0.514},{"t":5,"p":"Phase 2","d":8,"r":0.516},
    {"t":5,"p":"Phase 2","d":9,"r":0.697},{"t":5,"p":"Phase 2","d":9,"r":0.685},{"t":5,"p":"Phase 2","d":9,"r":0.663},{"t":5,"p":"Phase 2","d":9,"r":0.622},{"t":5,"p":"Phase 2","d":9,"r":0.536},
    {"t":5,"p":"Phase 2","d":10,"r":0.709},{"t":5,"p":"Phase 2","d":10,"r":0.655},{"t":5,"p":"Phase 2","d":10,"r":0.657},{"t":5,"p":"Phase 2","d":10,"r":0.521},
    {"t":5,"p":"Phase 2","d":11,"r":0.785},{"t":5,"p":"Phase 2","d":11,"r":0.644},{"t":5,"p":"Phase 2","d":11,"r":0.595},
    {"t":5,"p":"Phase 2","d":12,"r":0.831},{"t":5,"p":"Phase 2","d":12,"r":0.658},
    {"t":5,"p":"Phase 2","d":13,"r":0.662}
  ]},
  "hconcat": [
    {
      "title": "Gaze following",
      "width": 431, "height": 651,
      "transform": [{"filter": "datum.t == 1"}],
      "mark": {"type": "point", "filled": true, "size": 80, "fillOpacity": 0.5, "strokeOpacity": 0.5, "strokeWidth": 1.5},
      "encoding": {
        "x": {"field": "d", "type": "quantitative", "scale": {"domain": [0.4, 13.6], "nice": false, "zero": false}, "axis": {"values": [1, 5, 10, 13], "title": null}},
        "y": {"field": "r", "type": "quantitative", "scale": {"domain": [-0.05, 1.05], "nice": false, "zero": false},
              "axis": {"values": [0, 0.25, 0.5, 0.75, 1], "format": ".2f", "title": "Re-test correlation", "titleX": -123, "titleY": 325.5, "titleBaseline": "alphabetic", "titleAngle": 270}},
        "color": {"field": "p", "type": "nominal", "scale": {"domain": ["Phase 1", "Phase 2"], "range": ["#000000", "#E69F00"]},
                  "legend": {"title": null, "orient": "none", "legendX": 2765, "legendY": 425, "symbolType": "square", "symbolSize": 3844,
                             "symbolStrokeWidth": 0, "symbolOpacity": 0.5, "symbolFillColor": null, "labelFontSize": 38, "labelColor": "#000000",
                             "labelOffset": 33, "rowPadding": 11}},
        "stroke": {"field": "p", "type": "nominal", "scale": {"domain": ["Phase 1", "Phase 2"], "range": ["#000000", "#E69F00"]}, "legend": null}
      }
    },
    {
      "width": 214, "height": 651, "view": {"stroke": null},
      "transform": [{"filter": "datum.t == 1"}, {"density": "r", "groupby": ["p"], "bandwidth": 0.034, "extent": [-0.05, 1.05], "steps": 220, "as": ["r", "density"]}],
      "encoding": {
        "y": {"field": "r", "type": "quantitative", "scale": {"domain": [-0.05, 1.05], "nice": false, "zero": false}, "axis": null},
        "x": {"field": "density", "type": "quantitative", "stack": null, "scale": {"domain": [0, 5.6], "nice": false, "zero": true}, "axis": null}
      },
      "layer": [
        {"transform": [{"filter": "datum.p == 'Phase 1'"}], "mark": {"type": "area", "orient": "horizontal", "fill": "#000000", "fillOpacity": 0.5}},
        {"transform": [{"filter": "datum.p == 'Phase 2'"}], "mark": {"type": "area", "orient": "horizontal", "fill": "#E69F00", "fillOpacity": 0.5}},
        {"transform": [{"filter": "datum.p == 'Phase 2'"}], "mark": {"type": "line", "stroke": "#ffffff", "strokeWidth": 3}, "encoding": {"order": {"field": "r", "type": "quantitative"}}}
      ]
    },
    {
      "title": "Causal inference",
      "width": 431, "height": 651,
      "transform": [{"filter": "datum.t == 2"}],
      "mark": {"type": "point", "filled": true, "size": 80, "fillOpacity": 0.5, "strokeOpacity": 0.5, "strokeWidth": 1.5},
      "encoding": {
        "x": {"field": "d", "type": "quantitative", "scale": {"domain": [0.4, 13.6], "nice": false, "zero": false}, "axis": {"values": [1, 5, 10, 13], "title": null}},
        "y": {"field": "r", "type": "quantitative", "scale": {"domain": [-0.05, 1.05], "nice": false, "zero": false}, "axis": null},
        "color": {"field": "p", "type": "nominal", "scale": {"domain": ["Phase 1", "Phase 2"], "range": ["#000000", "#E69F00"]}},
        "stroke": {"field": "p", "type": "nominal", "scale": {"domain": ["Phase 1", "Phase 2"], "range": ["#000000", "#E69F00"]}, "legend": null}
      }
    },
    {
      "width": 214, "height": 651, "view": {"stroke": null},
      "transform": [{"filter": "datum.t == 2"}, {"density": "r", "groupby": ["p"], "bandwidth": 0.032, "extent": [-0.05, 1.05], "steps": 220, "as": ["r", "density"]}],
      "encoding": {
        "y": {"field": "r", "type": "quantitative", "scale": {"domain": [-0.05, 1.05], "nice": false, "zero": false}, "axis": null},
        "x": {"field": "density", "type": "quantitative", "stack": null, "scale": {"domain": [0, 5.6], "nice": false, "zero": true}, "axis": null}
      },
      "layer": [
        {"transform": [{"filter": "datum.p == 'Phase 1'"}], "mark": {"type": "area", "orient": "horizontal", "fill": "#000000", "fillOpacity": 0.5}},
        {"transform": [{"filter": "datum.p == 'Phase 2'"}], "mark": {"type": "area", "orient": "horizontal", "fill": "#E69F00", "fillOpacity": 0.5}},
        {"transform": [{"filter": "datum.p == 'Phase 2'"}], "mark": {"type": "line", "stroke": "#ffffff", "strokeWidth": 3}, "encoding": {"order": {"field": "r", "type": "quantitative"}}}
      ]
    },
    {
      "title": "Inference by exclusion",
      "width": 431, "height": 651,
      "transform": [{"filter": "datum.t == 3"}],
      "mark": {"type": "point", "filled": true, "size": 80, "fillOpacity": 0.5, "strokeOpacity": 0.5, "strokeWidth": 1.5},
      "encoding": {
        "x": {"field": "d", "type": "quantitative", "scale": {"domain": [0.4, 13.6], "nice": false, "zero": false},
              "axis": {"values": [1, 5, 10, 13], "title": "Distance between time points", "titleX": 329, "titleY": 110, "titleBaseline": "alphabetic", "titleAlign": "center"}},
        "y": {"field": "r", "type": "quantitative", "scale": {"domain": [-0.05, 1.05], "nice": false, "zero": false}, "axis": null},
        "color": {"field": "p", "type": "nominal", "scale": {"domain": ["Phase 1", "Phase 2"], "range": ["#000000", "#E69F00"]}},
        "stroke": {"field": "p", "type": "nominal", "scale": {"domain": ["Phase 1", "Phase 2"], "range": ["#000000", "#E69F00"]}, "legend": null}
      }
    },
    {
      "width": 214, "height": 651, "view": {"stroke": null},
      "transform": [{"filter": "datum.t == 3"}, {"density": "r", "groupby": ["p"], "bandwidth": 0.048, "extent": [-0.05, 1.05], "steps": 220, "as": ["r", "density"]}],
      "encoding": {
        "y": {"field": "r", "type": "quantitative", "scale": {"domain": [-0.05, 1.05], "nice": false, "zero": false}, "axis": null},
        "x": {"field": "density", "type": "quantitative", "stack": null, "scale": {"domain": [0, 5.6], "nice": false, "zero": true}, "axis": null}
      },
      "layer": [
        {"transform": [{"filter": "datum.p == 'Phase 1'"}], "mark": {"type": "area", "orient": "horizontal", "fill": "#000000", "fillOpacity": 0.5}},
        {"transform": [{"filter": "datum.p == 'Phase 2'"}], "mark": {"type": "area", "orient": "horizontal", "fill": "#E69F00", "fillOpacity": 0.5}},
        {"transform": [{"filter": "datum.p == 'Phase 2'"}], "mark": {"type": "line", "stroke": "#ffffff", "strokeWidth": 3}, "encoding": {"order": {"field": "r", "type": "quantitative"}}}
      ]
    },
    {
      "title": "Quantity discrimination",
      "width": 431, "height": 651,
      "transform": [{"filter": "datum.t == 4"}],
      "mark": {"type": "point", "filled": true, "size": 80, "fillOpacity": 0.5, "strokeOpacity": 0.5, "strokeWidth": 1.5},
      "encoding": {
        "x": {"field": "d", "type": "quantitative", "scale": {"domain": [0.4, 13.6], "nice": false, "zero": false}, "axis": {"values": [1, 5, 10, 13], "title": null}},
        "y": {"field": "r", "type": "quantitative", "scale": {"domain": [-0.05, 1.05], "nice": false, "zero": false}, "axis": null},
        "color": {"field": "p", "type": "nominal", "scale": {"domain": ["Phase 1", "Phase 2"], "range": ["#000000", "#E69F00"]}},
        "stroke": {"field": "p", "type": "nominal", "scale": {"domain": ["Phase 1", "Phase 2"], "range": ["#000000", "#E69F00"]}, "legend": null}
      }
    },
    {
      "width": 214, "height": 651, "view": {"stroke": null},
      "transform": [{"filter": "datum.t == 4"}, {"density": "r", "groupby": ["p"], "bandwidth": 0.055, "extent": [-0.05, 1.05], "steps": 220, "as": ["r", "density"]}],
      "encoding": {
        "y": {"field": "r", "type": "quantitative", "scale": {"domain": [-0.05, 1.05], "nice": false, "zero": false}, "axis": null},
        "x": {"field": "density", "type": "quantitative", "stack": null, "scale": {"domain": [0, 5.6], "nice": false, "zero": true}, "axis": null}
      },
      "layer": [
        {"transform": [{"filter": "datum.p == 'Phase 1'"}], "mark": {"type": "area", "orient": "horizontal", "fill": "#000000", "fillOpacity": 0.5}},
        {"transform": [{"filter": "datum.p == 'Phase 2'"}], "mark": {"type": "area", "orient": "horizontal", "fill": "#E69F00", "fillOpacity": 0.5}},
        {"transform": [{"filter": "datum.p == 'Phase 2'"}], "mark": {"type": "line", "stroke": "#ffffff", "strokeWidth": 3}, "encoding": {"order": {"field": "r", "type": "quantitative"}}}
      ]
    },
    {
      "title": "Delay of gratification",
      "width": 431, "height": 651,
      "transform": [{"filter": "datum.t == 5"}],
      "mark": {"type": "point", "filled": true, "size": 80, "fillOpacity": 0.5, "strokeOpacity": 0.5, "strokeWidth": 1.5},
      "encoding": {
        "x": {"field": "d", "type": "quantitative", "scale": {"domain": [0.4, 13.6], "nice": false, "zero": false}, "axis": {"values": [1, 5, 10, 13], "title": null}},
        "y": {"field": "r", "type": "quantitative", "scale": {"domain": [-0.05, 1.05], "nice": false, "zero": false}, "axis": null},
        "color": {"field": "p", "type": "nominal", "scale": {"domain": ["Phase 1", "Phase 2"], "range": ["#000000", "#E69F00"]}},
        "stroke": {"field": "p", "type": "nominal", "scale": {"domain": ["Phase 1", "Phase 2"], "range": ["#000000", "#E69F00"]}, "legend": null}
      }
    },
    {
      "width": 214, "height": 651, "view": {"stroke": null},
      "transform": [{"filter": "datum.t == 5"}, {"density": "r", "groupby": ["p"], "bandwidth": 0.042, "extent": [-0.05, 1.05], "steps": 220, "as": ["r", "density"]}],
      "encoding": {
        "y": {"field": "r", "type": "quantitative", "scale": {"domain": [-0.05, 1.05], "nice": false, "zero": false}, "axis": null},
        "x": {"field": "density", "type": "quantitative", "stack": null, "scale": {"domain": [0, 5.6], "nice": false, "zero": true}, "axis": null}
      },
      "layer": [
        {"transform": [{"filter": "datum.p == 'Phase 2'"}], "mark": {"type": "area", "orient": "horizontal", "fill": "#E69F00", "fillOpacity": 0.5}},
        {"transform": [{"filter": "datum.p == 'Phase 2'"}], "mark": {"type": "line", "stroke": "#ffffff", "strokeWidth": 3}, "encoding": {"order": {"field": "r", "type": "quantitative"}}}
      ]
    }
  ],
  "config": {
    "font": "Liberation Sans",
    "background": "#ffffff",
    "view": {"stroke": "#4d4d4d", "strokeWidth": 2.5},
    "axis": {"grid": false, "domain": false, "tickColor": "#4d4d4d", "tickWidth": 3, "tickSize": 11,
             "labelFont": "Liberation Sans", "labelFontSize": 37, "labelColor": "#4d4d4d", "labelPadding": 10,
             "titleFont": "Liberation Sans", "titleFontSize": 50, "titleFontWeight": "normal", "titleColor": "#000000"},
    "title": {"font": "Liberation Sans", "fontSize": 39, "fontWeight": "normal", "color": "#1a1a1a", "baseline": "alphabetic", "offset": 23},
    "legend": {"labelFont": "Liberation Sans"}
  }
}
